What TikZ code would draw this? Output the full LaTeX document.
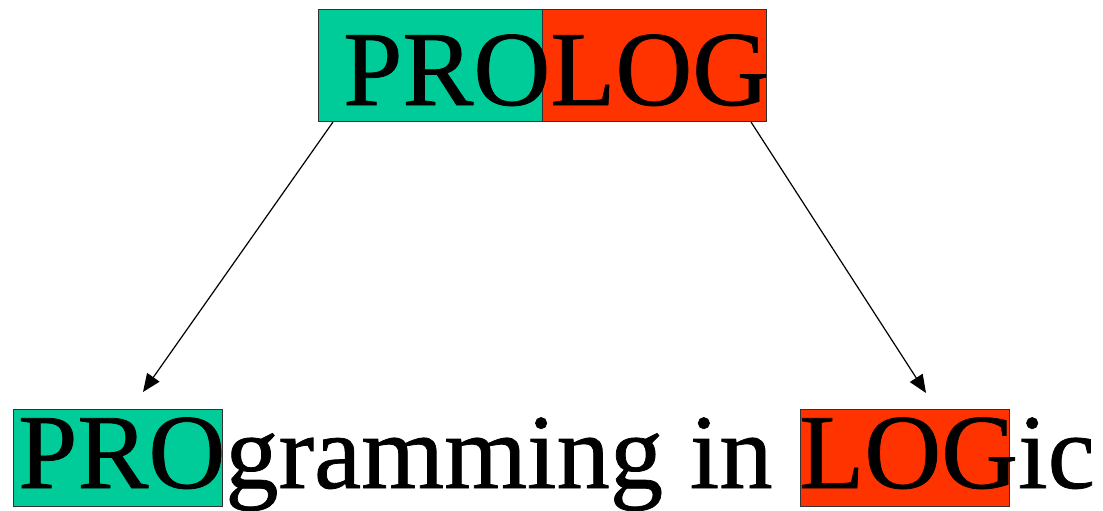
\documentclass[tikz,border=0pt]{standalone}
\usepackage{fontspec}
\setmainfont{Liberation Serif}
\newfontface\heavyserif{Liberation Serif}[FakeBold=0.7]
\usetikzlibrary{arrows.meta,calc}
\definecolor{progreen}{RGB}{0,204,153}
\definecolor{logred}{RGB}{255,51,0}
\tikzset{
  hlbox/.style={draw=black!80, line width=1pt, inner sep=0pt, anchor=north west},
  bigword/.style={inner sep=0pt, anchor=base west, font=\heavyserif\fontsize{106.5}{120}\selectfont},
  pointer/.style={line width=1.2pt, -{Triangle[length=18pt,width=15pt]}}
}
\begin{document}
\begin{tikzpicture}[x=1pt,y=-1pt]
  \useasboundingbox (0,0) rectangle (1103,511);
  % top word, split into two coloured halves
  \node[hlbox, fill=progreen, minimum width=224pt, minimum height=112pt] (topPro) at (318,9) {};
  \node[hlbox, fill=logred, minimum width=224pt, minimum height=112pt] (topLog) at (542,9) {};
  \node[bigword] (title) at (343,105) {PROLOG};
  % expanded name with the highlighted syllables
  \node[hlbox, fill=progreen, minimum width=209pt, minimum height=97pt] (botPro) at (13,409) {};
  \node[hlbox, fill=logred, minimum width=209pt, minimum height=97pt] (botLog) at (800,409) {};
  \node[bigword] (expanded) at (18,488) {PROgramming in LOGic};
  % pointers from the halves to the syllables
  \coordinate (proFrom) at ($(topPro.south west)+(15,0)$);
  \coordinate (logFrom) at ($(topLog.south east)+(-16,0)$);
  \coordinate (proTo) at (143,392);
  \coordinate (logTo) at (926,393);
  \draw[pointer] (proFrom) -- (proTo);
  \draw[pointer] (logFrom) -- (logTo);
\end{tikzpicture}
\end{document}
